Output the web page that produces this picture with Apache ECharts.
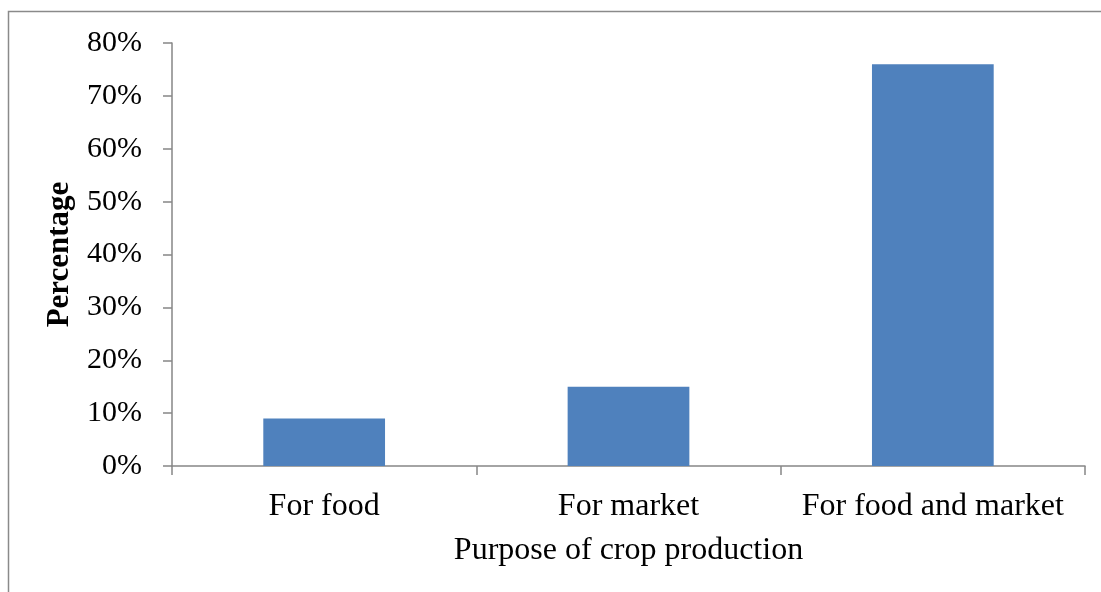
<!DOCTYPE html>
<html>
<head>
<meta charset="utf-8">
<script src="https://cdn.jsdelivr.net/npm/echarts@6/dist/echarts.min.js"></script>
<style>
html,body{margin:0;padding:0;background:#fff;}
#chart{width:1101px;height:592px;}
</style>
</head>
<body>
<div id="chart"></div>
<script>
const categories = ['For food', 'For market', 'For food and market'];
const values = [0.09, 0.15, 0.76];
const xAxisTitle = 'Purpose of crop production';
const yAxisTitle = 'Percentage';

const chart = echarts.init(document.getElementById('chart'), null, {renderer: 'canvas'});
const font = '"Liberation Serif", "Times New Roman", serif';
const axisColor = '#868686';
chart.setOption({
  animation: false,
  backgroundColor: '#ffffff',
  graphic: [{
    type: 'rect',
    shape: {x: 8.5, y: 11.5, width: 1200, height: 700},
    style: {fill: 'none', stroke: '#8a8a8a', lineWidth: 1.5},
    silent: true
  }],
  grid: {left: 172, right: 16, top: 43, bottom: 126, containLabel: false},
  xAxis: {
    type: 'category',
    data: categories,
    boundaryGap: true,
    name: xAxisTitle,
    nameLocation: 'middle',
    nameGap: 69,
    nameTextStyle: {fontFamily: font, fontSize: 32, color: '#000'},
    axisLine: {lineStyle: {color: axisColor, width: 1.5}},
    axisTick: {show: true, interval: 0, length: 9, alignWithLabel: false, lineStyle: {color: axisColor, width: 1.5}},
    axisLabel: {fontFamily: font, fontSize: 32, color: '#000', margin: 25, interval: 0, hideOverlap: false},
    splitLine: {show: false}
  },
  yAxis: {
    type: 'value',
    min: 0,
    max: 0.8,
    interval: 0.1,
    name: yAxisTitle,
    nameLocation: 'middle',
    nameRotate: 90,
    nameGap: 97,
    nameTextStyle: {fontFamily: font, fontSize: 31, fontWeight: 'bold', color: '#000'},
    axisLine: {show: true, lineStyle: {color: axisColor, width: 1.5}},
    axisTick: {show: true, length: 9, lineStyle: {color: axisColor, width: 1.5}},
    axisLabel: {
      fontFamily: font, fontSize: 30, color: '#000', margin: 30,
      formatter: v => Math.round(v * 100) + '%'
    },
    splitLine: {show: false}
  },
  series: [{
    type: 'bar',
    data: values,
    barWidth: '40%',
    itemStyle: {color: '#4F81BD'}
  }]
});
</script>
</body>
</html>
